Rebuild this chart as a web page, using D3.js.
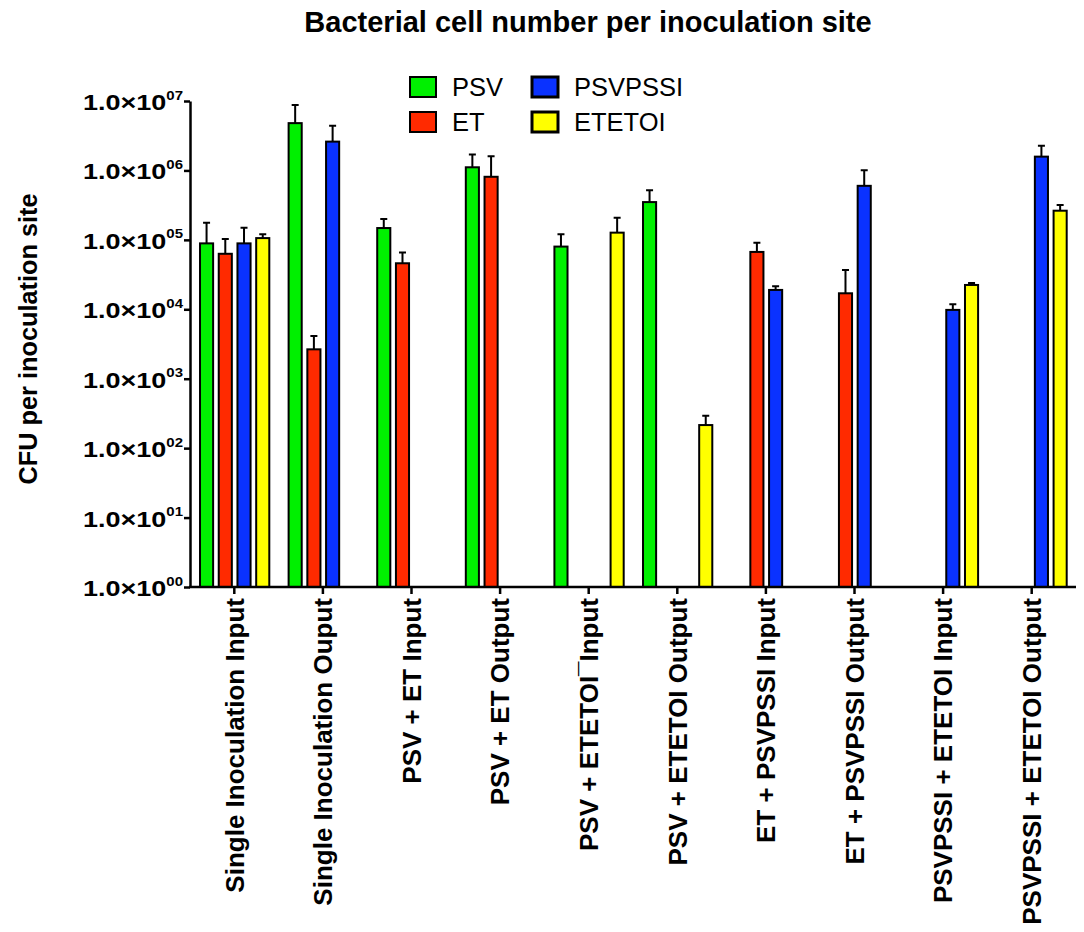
<!DOCTYPE html>
<html><head><meta charset="utf-8">
<script src="https://cdn.jsdelivr.net/npm/d3@7"></script>
<style>body{margin:0;background:#fff}svg{display:block}</style>
</head><body>
<svg id="chart" width="1084" height="932"></svg>
<script>
// ---------- data ----------
const categories = [
  "Single Inoculation Input",
  "Single Inoculation Ouput",
  "PSV + ET Input",
  "PSV + ET Output",
  "PSV + ETETOI\u00AFInput",
  "PSV + ETETOI Output",
  "ET + PSVPSSI Input",
  "ET + PSVPSSI Output",
  "PSVPSSI + ETETOI Input",
  "PSVPSSI + ETETOI Output"
];
const seriesNames = ["PSV", "ET", "PSVPSSI", "ETETOI"];
const seriesColors = ["#00f000", "#ff2a00", "#0a32ff", "#ffff00"];

const psvMean = [8.9e4, 4.8e6, 1.48e5, 1.11e6, 8.0e4, 3.5e5, null, null, null, null];
const psvErr  = [8.8e4, 3.95e6, 5.2e4, 5.8e5, 4.0e4, 1.67e5, null, null, null, null];
const etMean  = [6.3e4, 2650, 4.6e4, 8.1e5, null, null, 6.7e4, 1.7e4, null, null];
const etErr   = [4.0e4, 1470, 2.0e4, 7.9e5, null, null, 2.4e4, 1.98e4, null, null];
const psvpssiMean = [8.9e4, 2.6e6, null, null, null, null, 1.9e4, 6.0e5, 9.8e3, 1.58e6];
const psvpssiErr  = [6.1e4, 1.8e6, null, null, null, null, 2.4e3, 4.1e5, 2.0e3, 6.9e5];
const etetoiMean = [1.06e5, null, null, null, 1.27e5, 215, null, null, 2.24e4, 2.63e5];
const etetoiErr  = [1.4e4, null, null, null, 8.1e4, 78, null, null, 1.5e3, 5.5e4];

const yTickValues = [1, 10, 100, 1e3, 1e4, 1e5, 1e6, 1e7];
const yTickBase = "1.0\u00D710";
const yTickExp = ["00", "01", "02", "03", "04", "05", "06", "07"];

const titleText = "Bacterial cell number per inoculation site";
const yAxisTitle = "CFU per inoculation site";

// ---------- build ----------
const means = [psvMean, etMean, psvpssiMean, etetoiMean];
const errs = [psvErr, etErr, psvpssiErr, etetoiErr];
const rows = [];
categories.forEach((c, i) => {
  seriesNames.forEach((s, j) => {
    if (means[j][i] != null) rows.push({cat: c, series: s, idx: j, v: means[j][i], e: errs[j][i]});
  });
});

const svg = d3.select("#chart");
const FONT = "'Liberation Sans', Arial, sans-serif";
const plotL = 190, plotR = 1076, plotT = 101, plotB = 587;

const x = d3.scaleBand().domain(categories).range([plotL, plotR]).padding(0);
const bw = x.bandwidth();
const x1 = d3.scaleBand().domain(seriesNames).range([bw * 0.113, bw * 0.895]).paddingInner(0.3).paddingOuter(0);
const y = d3.scaleLog().domain([1, 1e7]).range([plotB, plotT]);
const color = d3.scaleOrdinal().domain(seriesNames).range(seriesColors);

// title
svg.append("text").attr("x", 588).attr("y", 32).attr("text-anchor", "middle")
  .attr("font-family", FONT).attr("font-weight", "bold").attr("font-size", 29)
  .text(titleText);

// y axis title
svg.append("text").attr("transform", "translate(37,339) rotate(-90)")
  .attr("text-anchor", "middle").attr("font-family", FONT).attr("font-weight", "bold")
  .attr("font-size", 25.3).text(yAxisTitle);

// bars
const g = svg.append("g");
g.selectAll("rect.bar").data(rows).join("rect").attr("class", "bar")
  .attr("x", d => x(d.cat) + x1(d.series))
  .attr("width", x1.bandwidth())
  .attr("y", d => y(d.v))
  .attr("height", d => y(1) - y(d.v))
  .attr("fill", d => color(d.series))
  .attr("stroke", "#000").attr("stroke-width", 2);

// error bars (upper only)
const capW = 7;
g.selectAll("path.err").data(rows).join("path").attr("class", "err")
  .attr("d", d => {
    const cx = x(d.cat) + x1(d.series) + x1.bandwidth() / 2;
    const y0 = y(d.v), y1 = y(d.v + d.e);
    return `M${cx},${y0}V${y1}M${cx - capW / 2},${y1}H${cx + capW / 2}`;
  })
  .attr("fill", "none").attr("stroke", "#000").attr("stroke-width", 2);

// y axis
const yAxis = d3.axisLeft(y).tickValues(yTickValues).tickSize(6).tickSizeOuter(0).tickFormat(() => "");
const yg = svg.append("g").attr("transform", `translate(${plotL},0)`).call(yAxis);
yg.select(".domain").attr("stroke-width", 2.5);
yg.selectAll(".tick line").attr("stroke-width", 2.5);
yg.selectAll(".tick text").remove();
yg.selectAll(".tick").each(function (d, i) {
  const t = d3.select(this).append("text")
    .attr("transform", "translate(-7,8.5) scale(1.2,1)")
    .attr("text-anchor", "end")
    .attr("font-family", FONT).attr("font-weight", "bold").attr("font-size", 22.5).attr("fill", "#000");
  t.append("tspan").text(yTickBase);
  t.append("tspan").attr("font-size", 12.5).attr("dy", -10.5).text(yTickExp[i]);
});

// x axis
const xAxis = d3.axisBottom(x).tickSize(7).tickSizeOuter(0);
const xg = svg.append("g").attr("transform", `translate(0,${plotB})`).call(xAxis);
xg.select(".domain").attr("stroke-width", 2.5).attr("d", `M${plotL - 1},0H${plotR}`);
xg.selectAll(".tick line").attr("stroke-width", 2.5);
xg.selectAll(".tick text")
  .attr("transform", "rotate(-90)")
  .attr("x", -11).attr("y", 0).attr("dy", "0.36em")
  .attr("text-anchor", "end")
  .attr("font-family", FONT).attr("font-weight", "bold").attr("font-size", 26).attr("fill", "#000");

// legend
const legendPos = [[410, 77], [410, 112], [532, 77], [532, 112]];
const lg = svg.append("g");
seriesNames.forEach((s, i) => {
  const [lx, ly] = legendPos[i];
  lg.append("rect").attr("x", lx).attr("y", ly).attr("width", 26).attr("height", 20)
    .attr("fill", color(s)).attr("stroke", "#000").attr("stroke-width", i >= 2 ? 3 : 2);
  lg.append("text").attr("x", lx + 42).attr("y", ly + 19)
    .attr("font-family", FONT).attr("font-size", 25.5).attr("fill", "#000").text(s);
});
</script>
</body></html>
